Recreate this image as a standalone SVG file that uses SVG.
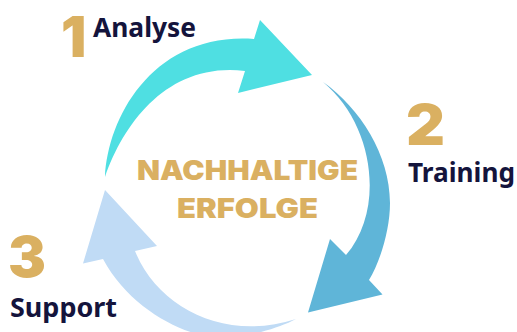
<svg xmlns="http://www.w3.org/2000/svg" width="517" height="332" viewBox="0 0 517 332">
<style>
.num{font-family:"Inter","Liberation Sans",sans-serif;font-weight:900;font-size:56px;fill:#dab061}
.lab{font-family:"Noto Sans","Liberation Sans",sans-serif;font-weight:700;font-size:26px;fill:#14143c}
.mid{font-family:"Inter","Liberation Sans",sans-serif;font-weight:900;font-size:27px;fill:#dab061}
</style>
<rect width="517" height="332" fill="#ffffff"/>
<g id="connectors">
<path id="arrow-1" fill="#4fdfe2" d="M105 177C108 115 155 32 254 39L260 20L312 75L238 93L245 71C170 62 125 120 105 177Z"/>
<path id="arrow-2" fill="#5fb5d8" d="M323 82C360 108 390 155 390 203C390 230 380 262 369 280L382.500 294.500L308 312.500L330 239L346 255C385 210 375 125 323 82Z"/>
<path id="arrow-3" fill="#c0dbf5" d="M296 319C225 342 158 308 135 251L157 246L105 190L83 263.500L103 259C125 300 165 325 197 334L253 334C270 330 285 325 296 319Z"/>
</g>
<g id="node-1"><text class="num" x="61" y="57">1</text><text class="lab" x="93" y="37" textLength="103" lengthAdjust="spacingAndGlyphs">Analyse</text></g>
<g id="node-2"><text class="num" x="406" y="145" textLength="39" lengthAdjust="spacingAndGlyphs">2</text><text class="lab" x="408" y="182" textLength="107" lengthAdjust="spacingAndGlyphs">Training</text></g>
<g id="node-3"><text class="num" x="8" y="277" textLength="38" lengthAdjust="spacingAndGlyphs">3</text><text class="lab" x="10" y="317" textLength="107" lengthAdjust="spacingAndGlyphs">Support</text></g>
<g id="center"><text class="mid" x="137" y="180" textLength="221" lengthAdjust="spacingAndGlyphs">NACHHALTIGE</text><text class="mid" x="177" y="218" textLength="141" lengthAdjust="spacingAndGlyphs">ERFOLGE</text></g>
</svg>
